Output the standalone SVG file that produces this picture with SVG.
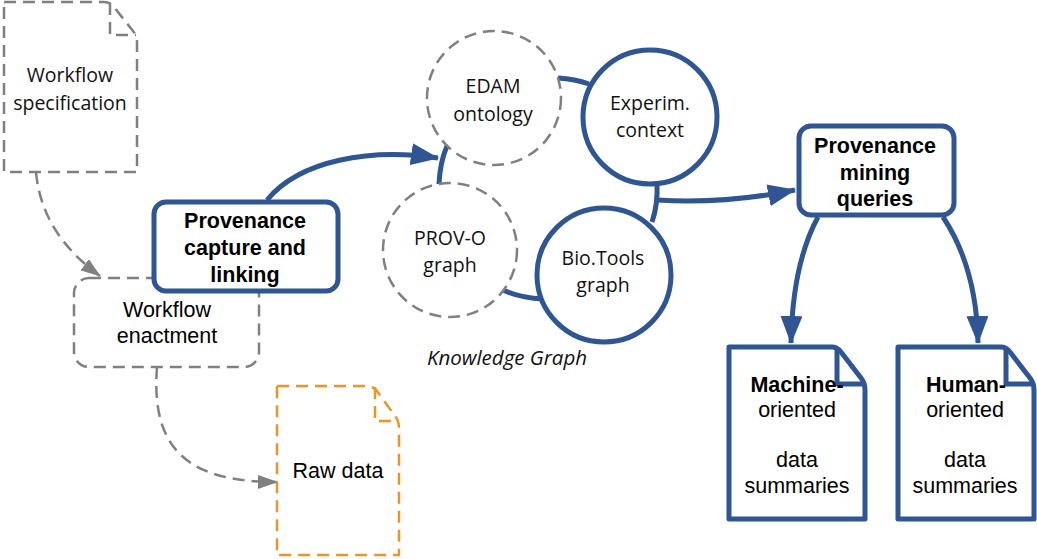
<svg xmlns="http://www.w3.org/2000/svg" width="1037" height="559" viewBox="0 0 1037 559">
<style>
.hv{font-family:"Liberation Sans",Arial,sans-serif;font-size:21.5px;fill:#000;text-anchor:middle}
.b{font-weight:bold}
.os{font-family:"Open Sans","Noto Sans",sans-serif;font-size:19.5px;fill:#111;text-anchor:middle}
.it{font-family:"Open Sans","Noto Sans",sans-serif;font-size:20.5px;font-style:italic;fill:#111;text-anchor:middle}
.gd{fill:#fff;stroke:#808080;stroke-width:2.5;stroke-dasharray:12 7}
.od{fill:#fff;stroke:#e8952a;stroke-width:2.5;stroke-dasharray:12 7}
.bl{fill:#fff;stroke:#2f5592;stroke-width:5;stroke-linejoin:round}
.bc{fill:none;stroke:#2f5592;stroke-width:5}
.gc{fill:none;stroke:#808080;stroke-width:2.5;stroke-dasharray:12 7}
</style>
<defs>
<marker id="ab" markerUnits="userSpaceOnUse" markerWidth="28" markerHeight="22" refX="27" refY="11" orient="auto" viewBox="0 0 28 22">
<path d="M0,0 L28,11 L0,22 Z" fill="#2f5592"/>
</marker>
<marker id="ag" markerUnits="userSpaceOnUse" markerWidth="20" markerHeight="14" refX="19" refY="7" orient="auto" viewBox="0 0 20 14">
<path d="M0,0 L20,7 L0,14 Z" fill="#808080"/>
</marker>
</defs>
<rect width="1037" height="559" fill="#fff"/>

<g id="connectors">
<path class="gc" d="M36,172 C40,215 62,248 100,276" marker-end="url(#ag)"/>
<path class="gc" d="M157,367 C150,455 195,482 277,482" marker-end="url(#ag)"/>
<path class="bc" d="M267,200 C300,160 370,148 438,158" marker-end="url(#ab)"/>
<path class="bc" d="M447,146 Q440,162 439,184"/>
<path class="bc" d="M558,78 Q575,79 589,84"/>
<path class="bc" d="M503,290 Q520,298 543,299"/>
<path class="bc" d="M657,183 Q658,205 652,222"/>
<path class="bc" d="M657,200 C700,203 750,199 795,190" marker-end="url(#ab)"/>
<path class="bc" d="M818,217 C800,250 792,290 791,343" marker-end="url(#ab)"/>
<path class="bc" d="M943,217 C965,250 977,290 978,343" marker-end="url(#ab)"/>
</g>

<g id="workflow-spec">
<path class="gd" d="M4,2 H104 Q110,2 114,7 L133,31 Q137,36 137,42 V172 H4 Z"/>
<path class="gc" d="M110,3 V35 H136"/>
<text class="os" x="70" y="82">Workflow</text>
<text class="os" x="70" y="110">specification</text>
</g>

<g id="workflow-enactment">
<rect class="gd" x="74" y="278" width="185" height="89" rx="15"/>
<text class="hv" x="167" y="317">Workflow</text>
<text class="hv" x="167" y="343">enactment</text>
</g>

<g id="provenance-capture">
<rect class="bl" x="154" y="202" width="184" height="89" rx="12"/>
<text class="hv b" x="245" y="228">Provenance</text>
<text class="hv b" x="245" y="255">capture and</text>
<text class="hv b" x="245" y="282">linking</text>
</g>

<g id="raw-data">
<path class="od" d="M277,386 H367 Q373,386 377,391 L395,416 Q399,421 399,428 V555 H277 Z"/>
<path fill="none" stroke="#e8952a" stroke-width="2.5" stroke-dasharray="12 7" d="M375,387 V421 H398"/>
<text class="hv" x="338" y="478">Raw data</text>
</g>

<g id="edam">
<circle class="gd" cx="494" cy="98" r="67"/>
<text class="os" x="493" y="93">EDAM</text>
<text class="os" x="493" y="121">ontology</text>
</g>

<g id="experim">
<circle class="bl" cx="650" cy="117" r="67"/>
<text class="os" x="650" y="110">Experim.</text>
<text class="os" x="650" y="137">context</text>
</g>

<g id="provo">
<circle class="gd" cx="450" cy="250" r="67"/>
<text class="os" x="450" y="245">PROV-O</text>
<text class="os" x="450" y="272">graph</text>
</g>

<g id="biotools">
<circle class="bl" cx="604" cy="275" r="67"/>
<text class="os" x="603" y="265">Bio.Tools</text>
<text class="os" x="603" y="292">graph</text>
</g>

<g id="kg-label">
<text class="it" x="507" y="365">Knowledge Graph</text>
</g>

<g id="mining">
<rect class="bl" x="799" y="126" width="155" height="89" rx="12"/>
<text class="hv b" x="875" y="153">Provenance</text>
<text class="hv b" x="875" y="180">mining</text>
<text class="hv b" x="875" y="206">queries</text>
</g>

<g id="machine">
<path class="bl" d="M729,347 H832 Q837,347 841,352 L861,378 Q865,383 865,390 V519 H729 Z"/>
<path class="bc" stroke-linejoin="round" d="M837,348 V384 H864"/>
<text class="hv b" x="797" y="392">Machine-</text>
<text class="hv" x="797" y="417">oriented</text>
<text class="hv" x="797" y="467">data</text>
<text class="hv" x="797" y="493">summaries</text>
</g>

<g id="human">
<path class="bl" d="M898,347 H1001 Q1006,347 1010,352 L1030,378 Q1034,383 1034,390 V519 H898 Z"/>
<path class="bc" stroke-linejoin="round" d="M1006,348 V384 H1033"/>
<text class="hv b" x="966" y="392">Human-</text>
<text class="hv" x="965" y="417">oriented</text>
<text class="hv" x="965" y="467">data</text>
<text class="hv" x="965" y="493">summaries</text>
</g>
</svg>
